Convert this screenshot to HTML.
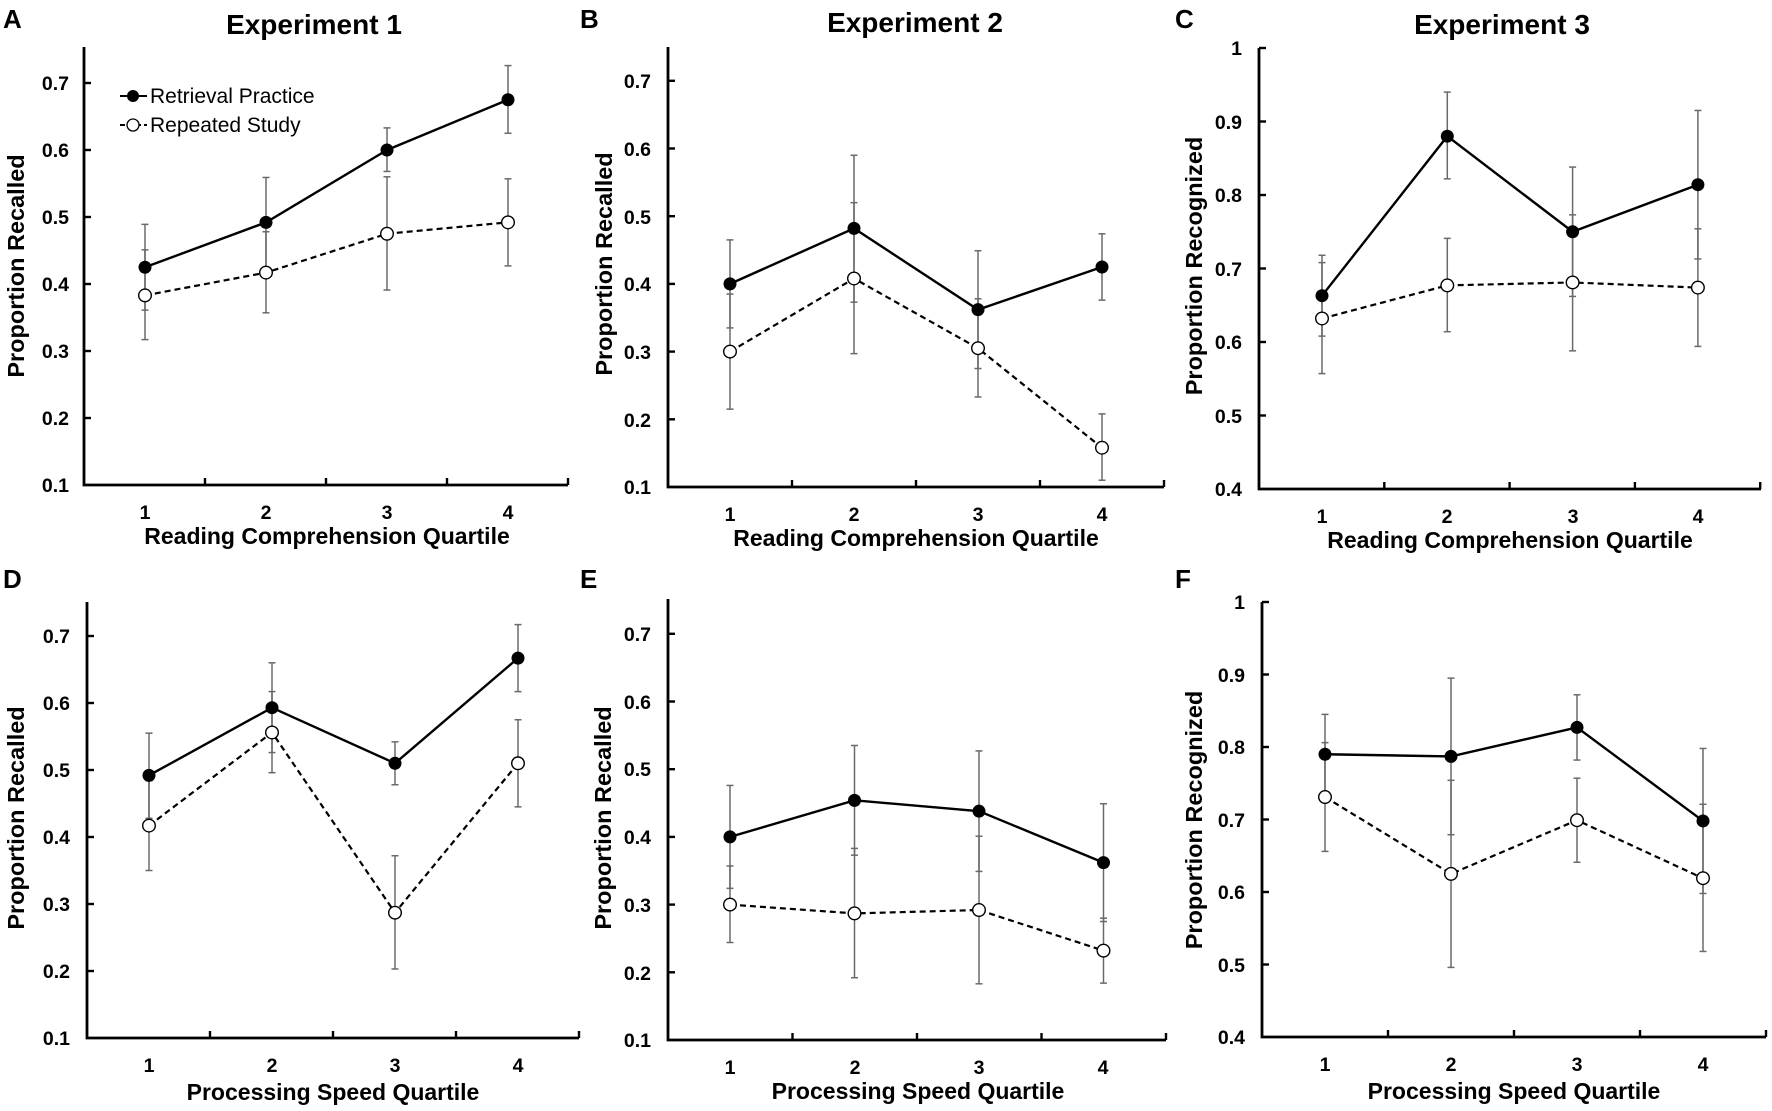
<!DOCTYPE html>
<html><head><meta charset="utf-8">
<style>
html,body{margin:0;padding:0;background:#fff;}
svg{display:block;}
text{font-family:"Liberation Sans",Arial,sans-serif;fill:#000;}
.tk{font-size:19.5px;font-weight:bold;}
.xl{font-size:23px;font-weight:bold;}
.yl{font-size:23.5px;font-weight:bold;}
.ti{font-size:28px;font-weight:bold;}
.pl{font-size:26px;font-weight:bold;}
.lg{font-size:21px;}
</style></head>
<body>
<svg id="s" width="1772" height="1111" viewBox="0 0 1772 1111" xmlns="http://www.w3.org/2000/svg">
<g id="g"></g>
<text class="pl" x="3" y="28">A</text>
<text class="pl" x="580" y="28">B</text>
<text class="pl" x="1175" y="28">C</text>
<text class="pl" x="3" y="588">D</text>
<text class="pl" x="580" y="588">E</text>
<text class="pl" x="1175" y="588">F</text>
<text class="ti" x="314" y="34" text-anchor="middle">Experiment 1</text>
<text class="ti" x="915" y="32" text-anchor="middle">Experiment 2</text>
<text class="ti" x="1502" y="34" text-anchor="middle">Experiment 3</text>
<text class="xl" x="327" y="544" text-anchor="middle">Reading Comprehension Quartile</text>
<text class="xl" x="916" y="546" text-anchor="middle">Reading Comprehension Quartile</text>
<text class="xl" x="1510" y="548" text-anchor="middle">Reading Comprehension Quartile</text>
<text class="xl" x="333" y="1100" text-anchor="middle">Processing Speed Quartile</text>
<text class="xl" x="918" y="1099" text-anchor="middle">Processing Speed Quartile</text>
<text class="xl" x="1514" y="1099" text-anchor="middle">Processing Speed Quartile</text>
<text class="yl" transform="translate(24,266) rotate(-90)" text-anchor="middle">Proportion Recalled</text>
<text class="yl" transform="translate(612,264) rotate(-90)" text-anchor="middle">Proportion Recalled</text>
<text class="yl" transform="translate(1202,266) rotate(-90)" text-anchor="middle">Proportion Recognized</text>
<text class="yl" transform="translate(24,818) rotate(-90)" text-anchor="middle">Proportion Recalled</text>
<text class="yl" transform="translate(611,818) rotate(-90)" text-anchor="middle">Proportion Recalled</text>
<text class="yl" transform="translate(1202,820) rotate(-90)" text-anchor="middle">Proportion Recognized</text>
<g class="tk" text-anchor="end">
<text x="69" y="90">0.7</text><text x="69" y="157">0.6</text><text x="69" y="224">0.5</text><text x="69" y="291">0.4</text><text x="69" y="358">0.3</text><text x="69" y="425">0.2</text><text x="69" y="492">0.1</text>
<text x="651" y="88">0.7</text><text x="651" y="156">0.6</text><text x="651" y="224">0.5</text><text x="651" y="291">0.4</text><text x="651" y="359">0.3</text><text x="651" y="427">0.2</text><text x="651" y="494">0.1</text>
<text x="1242" y="55">1</text><text x="1242" y="129">0.9</text><text x="1242" y="202">0.8</text><text x="1242" y="276">0.7</text><text x="1242" y="349">0.6</text><text x="1242" y="423">0.5</text><text x="1242" y="496">0.4</text>
<text x="70" y="643">0.7</text><text x="70" y="710">0.6</text><text x="70" y="777">0.5</text><text x="70" y="844">0.4</text><text x="70" y="911">0.3</text><text x="70" y="978">0.2</text><text x="70" y="1045">0.1</text>
<text x="651" y="641">0.7</text><text x="651" y="709">0.6</text><text x="651" y="776">0.5</text><text x="651" y="844">0.4</text><text x="651" y="912">0.3</text><text x="651" y="980">0.2</text><text x="651" y="1047">0.1</text>
<text x="1245" y="609">1</text><text x="1245" y="682">0.9</text><text x="1245" y="754">0.8</text><text x="1245" y="827">0.7</text><text x="1245" y="899">0.6</text><text x="1245" y="972">0.5</text><text x="1245" y="1044">0.4</text>
</g>
<g class="tk" text-anchor="middle">
<text x="145" y="519">1</text><text x="266" y="519">2</text><text x="387" y="519">3</text><text x="508" y="519">4</text>
<text x="730" y="521">1</text><text x="854" y="521">2</text><text x="978" y="521">3</text><text x="1102" y="521">4</text>
<text x="1322" y="523">1</text><text x="1447" y="523">2</text><text x="1573" y="523">3</text><text x="1698" y="523">4</text>
<text x="149" y="1072">1</text><text x="272" y="1072">2</text><text x="395" y="1072">3</text><text x="518" y="1072">4</text>
<text x="730" y="1074">1</text><text x="855" y="1074">2</text><text x="979" y="1074">3</text><text x="1103" y="1074">4</text>
<text x="1325" y="1071">1</text><text x="1451" y="1071">2</text><text x="1577" y="1071">3</text><text x="1703" y="1071">4</text>
</g>
<line x1="120" y1="96" x2="147" y2="96" stroke="#000" stroke-width="2"/>
<circle cx="133" cy="96" r="6" fill="#000"/>
<text class="lg" x="150" y="103">Retrieval Practice</text>
<line x1="120" y1="125" x2="147" y2="125" stroke="#000" stroke-width="2" stroke-dasharray="5,3"/>
<circle cx="133" cy="125" r="6" fill="#fff" stroke="#000" stroke-width="1.3"/>
<text class="lg" x="150" y="132">Repeated Study</text>
</svg>
<script>
(function(){
var NS="http://www.w3.org/2000/svg",g=document.getElementById("g");
function el(t,a){var e=document.createElementNS(NS,t);for(var k in a)e.setAttribute(k,a[k]);g.appendChild(e);return e;}
var P=[
 {ax:84,bot:485,top:47,c1:145,dx:121,end:568,ymin:0.1,st:67,
  rp:[0.425,0.492,0.600,0.675],rpe:[[0.361,0.489],[0.425,0.559],[0.568,0.633],[0.625,0.726]],
  rs:[0.383,0.417,0.475,0.492],rse:[[0.317,0.451],[0.357,0.478],[0.391,0.560],[0.427,0.557]]},
 {ax:668,bot:487,top:47,c1:730,dx:124,end:1164,ymin:0.1,st:67.7,
  rp:[0.400,0.482,0.362,0.425],rpe:[[0.335,0.465],[0.373,0.590],[0.275,0.449],[0.376,0.474]],
  rs:[0.300,0.408,0.305,0.158],rse:[[0.215,0.385],[0.297,0.520],[0.233,0.378],[0.110,0.208]]},
 {ax:1259,bot:489,top:48,c1:1322,dx:125.3,end:1761,ymin:0.4,st:73.5,
  rp:[0.663,0.880,0.750,0.814],rpe:[[0.608,0.718],[0.822,0.940],[0.662,0.838],[0.713,0.915]],
  rs:[0.632,0.677,0.681,0.674],rse:[[0.557,0.708],[0.614,0.741],[0.588,0.773],[0.594,0.754]]},
 {ax:87,bot:1038,top:602,c1:149,dx:123,end:579,ymin:0.1,st:67,
  rp:[0.492,0.593,0.510,0.667],rpe:[[0.428,0.555],[0.526,0.660],[0.478,0.542],[0.617,0.717]],
  rs:[0.417,0.556,0.287,0.510],rse:[[0.350,0.484],[0.496,0.617],[0.203,0.372],[0.445,0.575]]},
 {ax:668,bot:1040,top:599,c1:730,dx:124.5,end:1166,ymin:0.1,st:67.7,
  rp:[0.400,0.454,0.438,0.362],rpe:[[0.324,0.476],[0.373,0.535],[0.349,0.527],[0.275,0.449]],
  rs:[0.300,0.287,0.292,0.232],rse:[[0.244,0.357],[0.192,0.383],[0.183,0.401],[0.184,0.280]]},
 {ax:1262,bot:1037,top:602,c1:1325,dx:126,end:1766,ymin:0.4,st:72.5,
  rp:[0.790,0.787,0.827,0.698],rpe:[[0.735,0.845],[0.679,0.895],[0.782,0.872],[0.598,0.798]],
  rs:[0.731,0.625,0.699,0.619],rse:[[0.656,0.806],[0.496,0.754],[0.641,0.757],[0.518,0.721]]}
];
P.forEach(function(p){
 function Y(v){return p.bot-(v-p.ymin)*10*p.st;}
 function X(i){return p.c1+i*p.dx;}
 el("path",{d:"M"+p.ax+" "+p.top+"V"+p.bot+"H"+p.end,fill:"none",stroke:"#000","stroke-width":2.8});
 for(var k=1;k<=6;k++){var y=p.bot-k*p.st;el("line",{x1:p.ax,y1:y,x2:p.ax+7,y2:y,stroke:"#000","stroke-width":2.4});}
 for(var j=1;j<=4;j++){var x=p.ax+j*p.dx;el("line",{x1:x,y1:p.bot,x2:x,y2:p.bot-7,stroke:"#000","stroke-width":2.4});}
 [p.rse,p.rpe].forEach(function(E){E.forEach(function(e,i){var x=X(i);
  el("line",{x1:x,y1:Y(e[0]),x2:x,y2:Y(e[1]),stroke:"#6a6a6a","stroke-width":1.5});
  el("line",{x1:x-3.5,y1:Y(e[0]),x2:x+3.5,y2:Y(e[0]),stroke:"#6a6a6a","stroke-width":1.5});
  el("line",{x1:x-3.5,y1:Y(e[1]),x2:x+3.5,y2:Y(e[1]),stroke:"#6a6a6a","stroke-width":1.5});});});
 var d1="",d2="";
 for(var i=0;i<4;i++){d1+=(i?"L":"M")+X(i)+" "+Y(p.rp[i]);d2+=(i?"L":"M")+X(i)+" "+Y(p.rs[i]);}
 el("path",{d:d2,fill:"none",stroke:"#000","stroke-width":2.2,"stroke-dasharray":"6,4"});
 el("path",{d:d1,fill:"none",stroke:"#000","stroke-width":2.4});
 for(var i=0;i<4;i++){
  el("circle",{cx:X(i),cy:Y(p.rs[i]),r:6.3,fill:"#fff",stroke:"#000","stroke-width":1.4});
  el("circle",{cx:X(i),cy:Y(p.rp[i]),r:6.5,fill:"#000"});
 }
});
})();
</script>
</body></html>
